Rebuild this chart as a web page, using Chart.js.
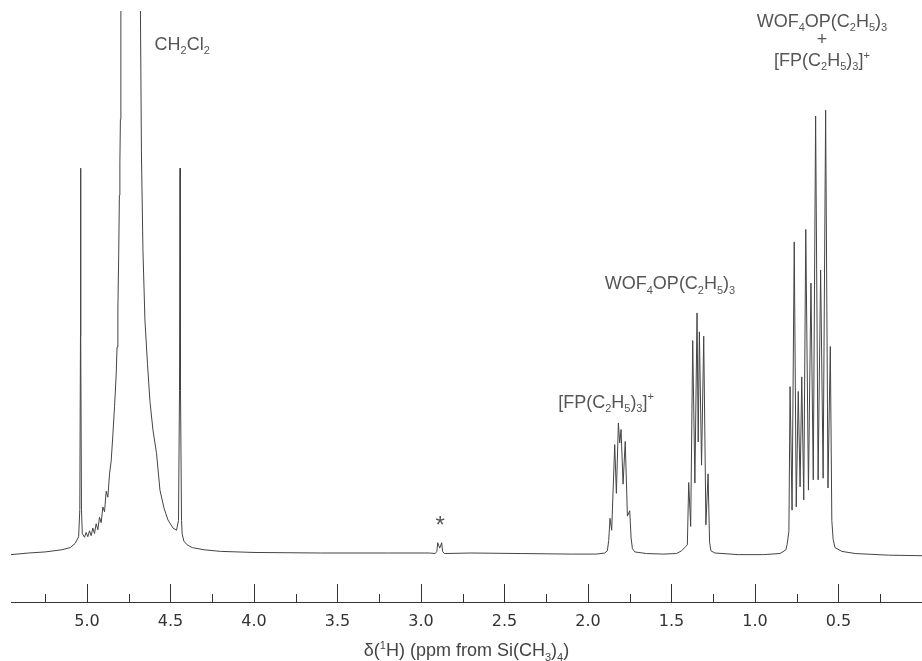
<!DOCTYPE html>
<html>
<head>
<meta charset="utf-8">
<script src="https://cdn.jsdelivr.net/npm/chart.js@4.4.1/dist/chart.umd.min.js"></script>
<style>
    html, body { margin: 0; padding: 0; background: #fff; }
</style>
</head>
<body>
<canvas id="nmr-chart" width="922" height="661"></canvas>
<script>
// 1H NMR spectrum (ppm, relative intensity)

// 5.45 - 3.2 ppm : solvent region (two satellites + broad CH2Cl2 line)
const solventShift = [5.455, 5.35, 5.25, 5.15, 5.10, 5.07, 5.05, 5.043, 5.039, 5.038, 5.037, 5.033, 5.028,
    5.015, 5.005, 4.995, 4.985, 4.975, 4.965, 4.955, 4.945, 4.935, 4.925, 4.915, 4.905, 4.895, 4.885,
    4.875, 4.865, 4.855, 4.845, 4.835, 4.825, 4.820, 4.815, 4.810, 4.806, 4.803, 4.800, 4.797, 4.740,
    4.680, 4.674, 4.665, 4.653, 4.638, 4.623, 4.605, 4.584, 4.563, 4.539, 4.515, 4.485, 4.464, 4.452,
    4.446, 4.443, 4.440, 4.434, 4.430, 4.420, 4.400, 4.370, 4.300, 4.200, 4.000, 3.600, 3.200];
const solventHeight = [-0.3, 0, 0.2, 0.6, 1.0, 1.8, 3.0, 8, 40, 71, 40, 8, 3.6,
    2.9, 3.8, 3.0, 4.1, 3.2, 4.6, 3.6, 5.4, 4.3, 6.6, 5.6, 8.5, 7.6, 11.4,
    10.3, 14.6, 17.0, 21.8, 27, 33, 38, 45, 55, 66, 72, 80, 100, 260,
    100, 74, 56, 43, 35, 28, 22.7, 18.5, 11.6, 8.3, 6.1, 4.6, 4.2, 6,
    30, 71, 30, 6, 3.5, 2.2, 1.5, 1.0, 0.6, 0.3, 0.1, 0, 0];

// impurity marked with *
const impurityShift = [2.95, 2.915, 2.905, 2.900, 2.888, 2.876, 2.871, 2.86, 2.7, 2.4, 2.1];
const impurityHeight = [0, -0.1, 0.3, 1.9, 0.9, 1.9, 0.3, -0.1, 0, -0.1, -0.2];

// [FP(C2H5)3]+ CH2 multiplet
const cationShift = [1.95, 1.90, 1.884, 1.876, 1.868, 1.858, 1.840, 1.830, 1.818, 1.810, 1.802,
    1.790, 1.777, 1.764, 1.750, 1.742, 1.734, 1.72, 1.65, 1.55];
const cationHeight = [-0.2, 0, 0.4, 2.3, 6.4, 4.2, 20.0, 11, 24, 20.3, 22.8,
    12.7, 20.6, 6.8, 7.8, 2.8, 0.8, 0.2, -0.1, -0.2];

// WOF4OP(C2H5)3 CH2 multiplet
const adductShift = [1.47, 1.44, 1.415, 1.405, 1.397, 1.385, 1.373, 1.360, 1.347, 1.340, 1.333,
    1.320, 1.307, 1.294, 1.281, 1.272, 1.264, 1.24, 1.1, 0.95];
const adductHeight = [-0.1, 0.4, 1.2, 1.5, 13, 4.9, 39.2, 12.9, 44.3, 20.5, 40.8,
    16.2, 40, 5.2, 14.6, 2.0, 0.4, 0, -0.3, -0.3];

// overlapping CH3 multiplets
const methylShift = [0.85, 0.815, 0.808, 0.797, 0.790, 0.778, 0.765, 0.753, 0.741, 0.730, 0.720,
    0.708, 0.696, 0.680, 0.665, 0.651, 0.637, 0.622, 0.607, 0.592, 0.577, 0.563, 0.549,
    0.540, 0.532, 0.521, 0.48, 0.40, 0.2, 0.0];
const methylHeight = [-0.1, 0.6, 1.5, 4, 30.7, 7.9, 57.4, 8.5, 29.8, 12.2, 32.5,
    9.8, 59.7, 11.6, 49.8, 13.5, 80.6, 13.5, 52.2, 13.8, 81.7, 12, 38.1,
    6, 2.5, 1.0, 0.3, -0.1, -0.4, -0.5];

// axis range and ticks
const ppmMin = 0.0;
const ppmMax = 5.455;
const tickStep = 0.25;

// peak labels: text (_ = subscript, ^ = superscript), anchor ppm / intensity
const peakLabels = [
    { text: 'CH_2Cl_2', ppm: 4.43, y: 94.0 },
    { text: 'WOF_4OP(C_2H_5)_3', ppm: 0.599, y: 98.3 },
    { text: '+', ppm: 0.599, y: 94.8 },
    { text: '[FP(C_2H_5)_3]^+', ppm: 0.599, y: 91.0 },
    { text: 'WOF_4OP(C_2H_5)_3', ppm: 1.509, y: 49.8 },
    { text: '[FP(C_2H_5)_3]^+', ppm: 1.892, y: 28.0 },
    { text: '*', ppm: 2.885, y: 5.3, size: 24 }
];
const axisTitle = 'δ(^1H) (ppm from Si(CH_3)_4)';

function toPoints(shifts, heights) {
    return shifts.map((s, i) => ({ x: s, y: heights[i] }));
}

const spectrum = [].concat(
    toPoints(solventShift, solventHeight),
    toPoints(impurityShift, impurityHeight),
    toPoints(cationShift, cationHeight),
    toPoints(adductShift, adductHeight),
    toPoints(methylShift, methylHeight)
);

function isMajor(v) {
    return Math.abs(v * 2 - Math.round(v * 2)) < 1e-6;
}

// draws text with single-char sub/superscripts, centred on (x, y)
function drawRich(ctx, str, x, y, size, color) {
    const parts = [];
    for (let i = 0; i < str.length; i++) {
        const ch = str[i];
        if ((ch === '_' || ch === '^') && i + 1 < str.length) {
            parts.push({ t: str[i + 1], k: ch });
            i++;
        } else if (parts.length && parts[parts.length - 1].k === '') {
            parts[parts.length - 1].t += ch;
        } else {
            parts.push({ t: ch, k: '' });
        }
    }
    const family = '"Liberation Sans", Arial, sans-serif';
    const small = Math.round(size * 0.62);
    let total = 0;
    parts.forEach(p => {
        ctx.font = (p.k ? small : size) + 'px ' + family;
        p.w = ctx.measureText(p.t).width;
        total += p.w;
    });
    let cx = x - total / 2;
    ctx.fillStyle = color;
    ctx.textAlign = 'left';
    ctx.textBaseline = 'alphabetic';
    const base = y + size * 0.35;
    parts.forEach(p => {
        ctx.font = (p.k ? small : size) + 'px ' + family;
        let dy = 0;
        if (p.k === '_') dy = size * 0.24;
        if (p.k === '^') dy = -size * 0.42;
        ctx.fillText(p.t, cx, base + dy);
        cx += p.w;
    });
}

const decorations = {
    id: 'decorations',
    afterDraw(chart) {
        const ctx = chart.ctx;
        const xs = chart.scales.x;
        const ys = chart.scales.y;
        const area = chart.chartArea;
        ctx.save();

        // tick marks pointing up into the plot
        ctx.strokeStyle = '#333';
        ctx.lineWidth = 1;
        xs.ticks.forEach(t => {
            if (t.value <= ppmMin) return;
            const px = Math.round(xs.getPixelForValue(t.value)) + 0.5;
            const len = isMajor(t.value) ? 18 : 8;
            ctx.beginPath();
            ctx.moveTo(px, area.bottom);
            ctx.lineTo(px, area.bottom - len);
            ctx.stroke();
        });

        // peak labels
        peakLabels.forEach(l => {
            drawRich(ctx, l.text, xs.getPixelForValue(l.ppm), ys.getPixelForValue(l.y), l.size || 18, '#555');
        });

        // axis title
        drawRich(ctx, axisTitle, (area.left + area.right) / 2, 650, 18, '#444');
        ctx.restore();
    }
};

document.addEventListener('DOMContentLoaded', function () {
    const ctx = document.getElementById('nmr-chart');
    new Chart(ctx, {
        type: 'line',
        data: {
            datasets: [{
                data: spectrum,
                borderColor: '#444',
                borderWidth: 1,
                pointRadius: 0,
                pointHoverRadius: 0,
                pointHitRadius: 0,
                tension: 0,
                fill: false
            }]
        },
        options: {
            responsive: false,
            animation: false,
            devicePixelRatio: 1,
            events: [],
            layout: {
                autoPadding: false,
                padding: { left: 11, top: 11, right: 0, bottom: 0 }
            },
            plugins: {
                legend: { display: false },
                tooltip: { enabled: false }
            },
            scales: {
                x: {
                    type: 'linear',
                    reverse: true,
                    min: ppmMin,
                    max: ppmMax,
                    afterFit: (scale) => { scale.height = 59; },
                    grid: {
                        display: false,
                        drawTicks: true,
                        tickLength: 10
                    },
                    border: {
                        display: true,
                        color: '#333',
                        width: 1
                    },
                    ticks: {
                        stepSize: tickStep,
                        includeBounds: false,
                        autoSkip: false,
                        maxRotation: 0,
                        padding: 0,
                        color: '#333',
                        font: { family: '"DejaVu Sans", Verdana, sans-serif', size: 16 },
                        callback: (v) => (v > ppmMin && isMajor(v)) ? v.toFixed(1) : ''
                    }
                },
                y: {
                    display: false,
                    min: -9.04,
                    max: 100
                }
            }
        },
        plugins: [decorations]
    });
});
</script>
</body>
</html>
